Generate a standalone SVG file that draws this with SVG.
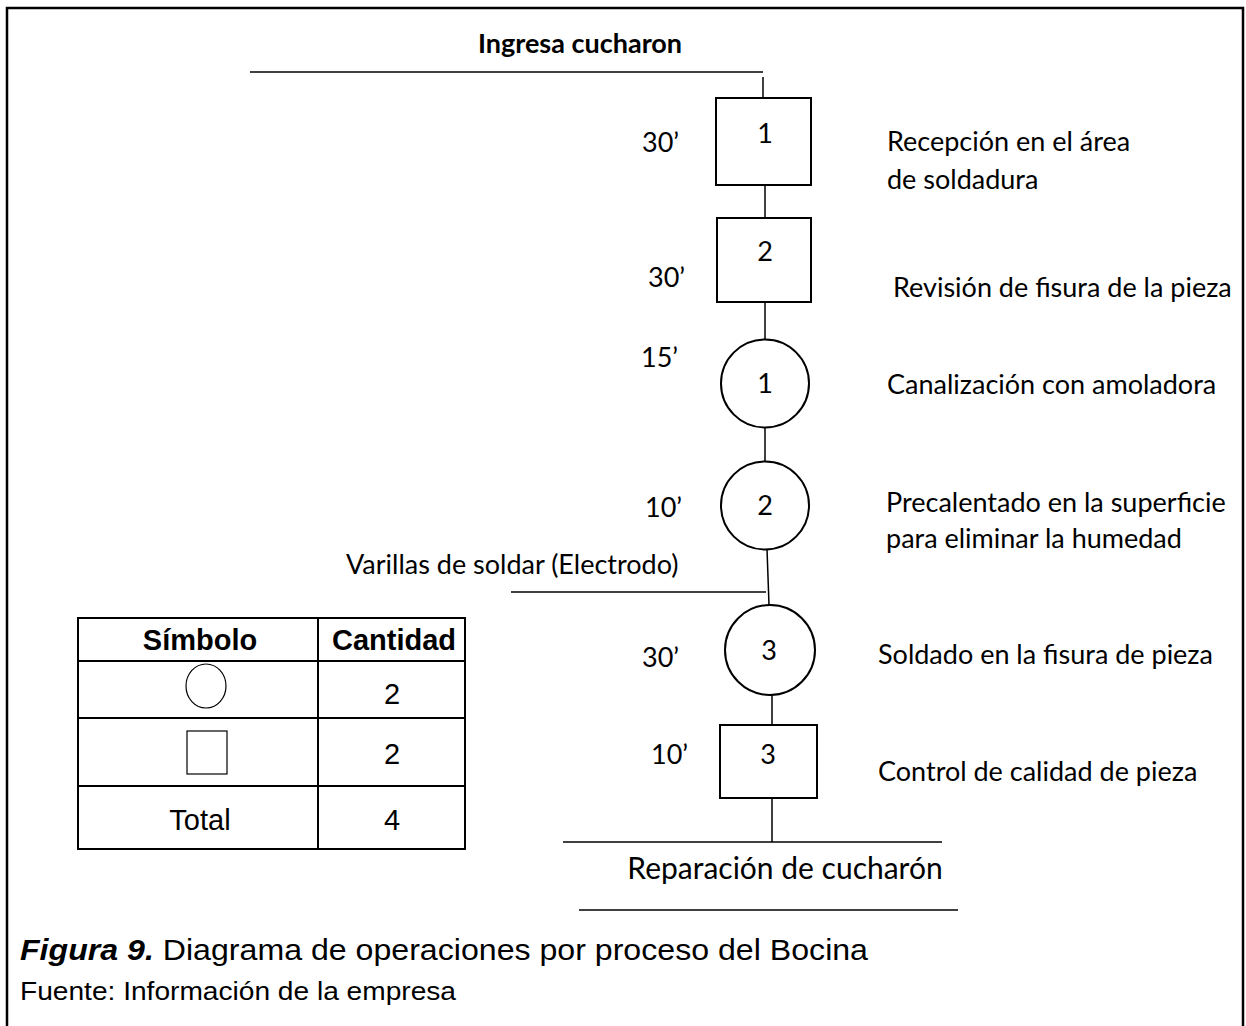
<svg xmlns="http://www.w3.org/2000/svg" width="1246" height="1026" viewBox="0 0 1246 1026">
<style>
.ln{stroke:#000;stroke-width:1.5;fill:none}
.sh{stroke:#000;stroke-width:2;fill:#fff}
.c{font-family:Lato,"Open Sans","Liberation Sans",sans-serif;font-size:27px;fill:#000}
.a{font-family:"Liberation Sans",Arial,sans-serif;font-size:29px;fill:#000}
.b{font-weight:bold}
.m{text-anchor:middle}
</style>
<rect x="0" y="0" width="1246" height="1026" fill="#fff"/>
<path d="M7 1026 V8 H1243 V1026" fill="none" stroke="#000" stroke-width="2.5"/>

<g id="connectors">
<line class="ln" x1="250" y1="72" x2="763" y2="72"/>
<line class="ln" x1="763" y1="77" x2="763" y2="98"/>
<line class="ln" x1="765" y1="185" x2="765" y2="218"/>
<line class="ln" x1="765" y1="302" x2="765" y2="340"/>
<line class="ln" x1="765" y1="427" x2="765" y2="462"/>
<line class="ln" x1="767" y1="549" x2="769" y2="605"/>
<line class="ln" x1="511" y1="592" x2="766" y2="592"/>
<line class="ln" x1="772" y1="695" x2="772" y2="725"/>
<line class="ln" x1="772" y1="798" x2="772" y2="842"/>
<line class="ln" x1="563" y1="842" x2="942" y2="842"/>
<line class="ln" x1="579" y1="910" x2="958" y2="910"/>
</g>

<g id="start">
<text class="c b m" x="580" y="53">Ingresa cucharon</text>
</g>

<g id="op-box1">
<rect class="sh" x="716" y="98" width="95" height="87"/>
<text class="c m" x="765" y="143">1</text>
<text class="c" x="642" y="152">30’</text>
<text class="c" x="887" y="151">Recepción en el área</text>
<text class="c" x="887" y="189">de soldadura</text>
</g>

<g id="op-box2">
<rect class="sh" x="717" y="218" width="94" height="84"/>
<text class="c m" x="765" y="261">2</text>
<text class="c" x="648" y="287">30’</text>
<text class="c" x="893" y="297">Revisión de fisura de la pieza</text>
</g>

<g id="op-circle1">
<circle class="sh" cx="765" cy="383.5" r="44"/>
<text class="c m" x="765" y="393">1</text>
<text class="c" x="641" y="367">15’</text>
<text class="c" x="887" y="394">Canalización con amoladora</text>
</g>

<g id="op-circle2">
<circle class="sh" cx="765" cy="505.5" r="44"/>
<text class="c m" x="765" y="515">2</text>
<text class="c" x="645" y="517">10’</text>
<text class="c" x="886" y="512">Precalentado en la superficie</text>
<text class="c" x="886" y="548">para eliminar la humedad</text>
</g>

<g id="input">
<text class="c" x="346" y="574">Varillas de soldar (Electrodo)</text>
</g>

<g id="op-circle3">
<circle class="sh" cx="770" cy="650" r="45"/>
<text class="c m" x="769" y="660">3</text>
<text class="c" x="642" y="667">30’</text>
<text class="c" x="878" y="664">Soldado en la fisura de pieza</text>
</g>

<g id="op-box3">
<rect class="sh" x="720" y="725" width="97" height="73"/>
<text class="c m" x="768" y="764">3</text>
<text class="c" x="651" y="764">10’</text>
<text class="c" x="878" y="781">Control de calidad de pieza</text>
</g>

<g id="end">
<text class="c m" x="785" y="879" style="font-size:30px">Reparación de cucharón</text>
</g>

<g id="table">
<rect x="78" y="618" width="387" height="231" fill="none" stroke="#000" stroke-width="2"/>
<line x1="318" y1="618" x2="318" y2="849" stroke="#000" stroke-width="2"/>
<line x1="78" y1="661" x2="465" y2="661" stroke="#000" stroke-width="2"/>
<line x1="78" y1="718" x2="465" y2="718" stroke="#000" stroke-width="2"/>
<line x1="78" y1="786" x2="465" y2="786" stroke="#000" stroke-width="2"/>
<text class="a b m" x="200" y="650">Símbolo</text>
<text class="a b m" x="394" y="650">Cantidad</text>
<ellipse cx="206" cy="686" rx="20" ry="22" fill="none" stroke="#000" stroke-width="1.2"/>
<text class="a m" x="392" y="704">2</text>
<rect x="187" y="731" width="40" height="43" fill="none" stroke="#000" stroke-width="1.2"/>
<text class="a m" x="392" y="764">2</text>
<text class="a m" x="200" y="830">Total</text>
<text class="a m" x="392" y="830">4</text>
</g>

<g id="caption">
<text font-family="'Liberation Sans Narrow','Liberation Sans',Arial,sans-serif" font-size="30" x="20" y="960" textLength="848" lengthAdjust="spacingAndGlyphs"><tspan font-weight="bold" font-style="italic">Figura 9.</tspan> Diagrama de operaciones por proceso del Bocina</text>
<text font-family="'Liberation Sans Narrow','Liberation Sans',Arial,sans-serif" font-size="25" x="20" y="1000" textLength="436" lengthAdjust="spacingAndGlyphs">Fuente: Información de la empresa</text>
</g>
</svg>
